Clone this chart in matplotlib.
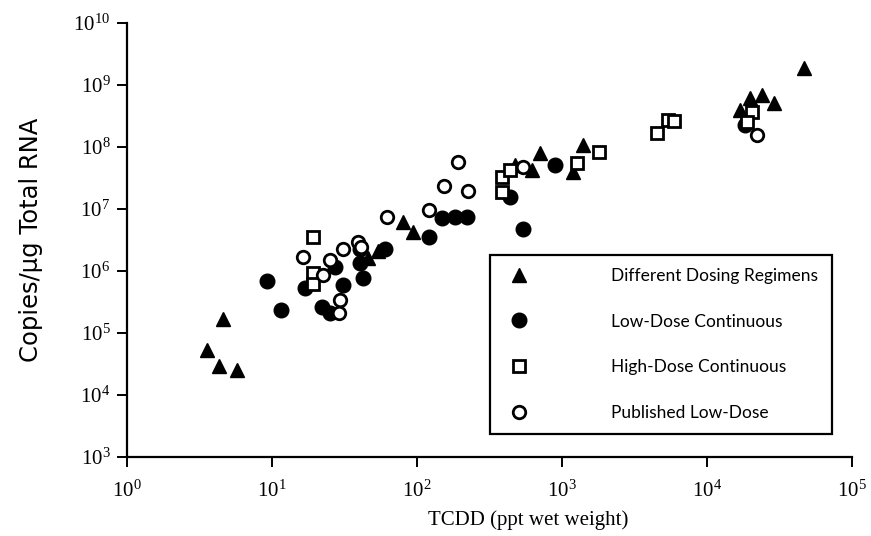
import matplotlib
matplotlib.use("Agg")
import matplotlib.pyplot as plt
from matplotlib.ticker import LogLocator, LogFormatterMathtext, NullLocator

plt.rcParams['mathtext.fontset'] = 'stix'
plt.rcParams['font.family'] = ['Liberation Serif', 'DejaVu Serif']

# Different Dosing Regimens (filled triangles)
tri_x = [3.57, 4.3, 5.7, 4.57, 46, 54, 80.5, 93.3, 474, 618, 705, 1197, 1390,
         16900, 19800, 24000, 29100, 46700]
tri_y = [5.3e4, 2.9e4, 2.5e4, 1.7e5, 1.6e6, 2.1e6, 6.2e6, 4.3e6, 5.1e7, 4.3e7, 7.9e7,
         4.0e7, 1.08e8, 3.95e8, 6.1e8, 6.9e8, 5.1e8, 1.86e9]

# Low-Dose Continuous (filled circles)
ldc_x = [9.2, 11.5, 16.9, 22, 25, 27.2, 30.7, 40.7, 40.7, 42.7, 60, 121.6, 148, 183,
         220, 438, 541, 895, 18300]
ldc_y = [6.9e5, 2.35e5, 5.3e5, 2.6e5, 2.1e5, 1.17e6, 5.9e5, 2.3e6, 1.33e6, 7.6e5,
         2.3e6, 3.6e6, 7.1e6, 7.5e6, 7.5e6, 1.58e7, 4.75e6, 5.1e7, 2.26e8]

# High-Dose Continuous (open squares)
hdc_x = [19.1, 19.1, 19.1, 384, 384, 438, 1270, 1807, 4500, 5400, 5900, 20400, 19000]
hdc_y = [3.5e6, 9.4e5, 6.2e5, 3.3e7, 1.9e7, 4.25e7, 5.5e7, 8.4e7, 1.66e8, 2.7e8,
         2.6e8, 3.7e8, 2.5e8]

# Published Low-Dose (open circles)
pub_x = [16.4, 22.6, 25, 30.7, 29.4, 29.1, 39.4, 41, 61.8, 121.6, 153, 193, 226, 541,
         22000]
pub_y = [1.66e6, 8.6e5, 1.5e6, 2.24e6, 3.4e5, 2.1e5, 2.97e6, 2.4e6, 7.5e6, 9.6e6,
         2.35e7, 5.8e7, 1.97e7, 4.8e7, 1.56e8]

labels = ["Different Dosing Regimens", "Low-Dose Continuous",
          "High-Dose Continuous", "Published Low-Dose"]

fig = plt.figure(figsize=(8.71, 5.36), dpi=100)
ax = fig.add_axes([127/871, 1-457/536, (852-127)/871, (457-23)/536])

h1, = ax.plot(tri_x, tri_y, linestyle='none', marker='^', ms=10, color='black', zorder=3)
h2, = ax.plot(ldc_x, ldc_y, linestyle='none', marker='o', ms=10.5, color='black', zorder=3)
h3, = ax.plot(hdc_x, hdc_y, linestyle='none', marker='s', ms=9, mfc='white', mec='black',
              mew=2, zorder=4)
h4, = ax.plot(pub_x, pub_y, linestyle='none', marker='o', ms=9, mfc='white', mec='black',
              mew=2, zorder=4)

ax.set_xscale('log')
ax.set_yscale('log')
ax.set_xlim(1, 1e5)
ax.set_ylim(1e3, 1e10)
ax.xaxis.set_major_locator(LogLocator(base=10, numticks=10))
ax.yaxis.set_major_locator(LogLocator(base=10, numticks=10))
ax.xaxis.set_minor_locator(NullLocator())
ax.yaxis.set_minor_locator(NullLocator())
ax.xaxis.set_major_formatter(LogFormatterMathtext())
ax.yaxis.set_major_formatter(LogFormatterMathtext())

for s in ['top', 'right']:
    ax.spines[s].set_visible(False)
for s in ['left', 'bottom']:
    ax.spines[s].set_linewidth(1.6)
ax.tick_params(axis='both', which='major', direction='out', length=7, width=1.4,
               labelsize=15)
ax.tick_params(axis='x', pad=10)
ax.tick_params(axis='y', pad=5)

ax.set_xlabel("TCDD (ppt wet weight)", fontsize=15)
ax.xaxis.set_label_coords((528 - 127) / 725, -(510 - 457) / 434)
ax.set_ylabel("Copies/μg Total RNA", fontsize=17.5, labelpad=22,
              family=['DejaVu Sans'])

leg = ax.legend([h1, h2, h3, h4], labels, numpoints=1,
                loc='upper left', bbox_to_anchor=(0.5007, 0.0668, 0.4717, 0.465 - 0.0668),
                mode='expand', labelspacing=1.72, borderpad=0.72,
                handlelength=1.9, handletextpad=4.35, frameon=True, fancybox=False,
                framealpha=1.0, borderaxespad=0.0,
                prop={'family': ['Lato', 'DejaVu Sans'], 'size': 12.5})
leg.get_frame().set_edgecolor('black')
leg.get_frame().set_linewidth(1.6)
leg.set_zorder(10)

fig.savefig("out.png", dpi=100)
